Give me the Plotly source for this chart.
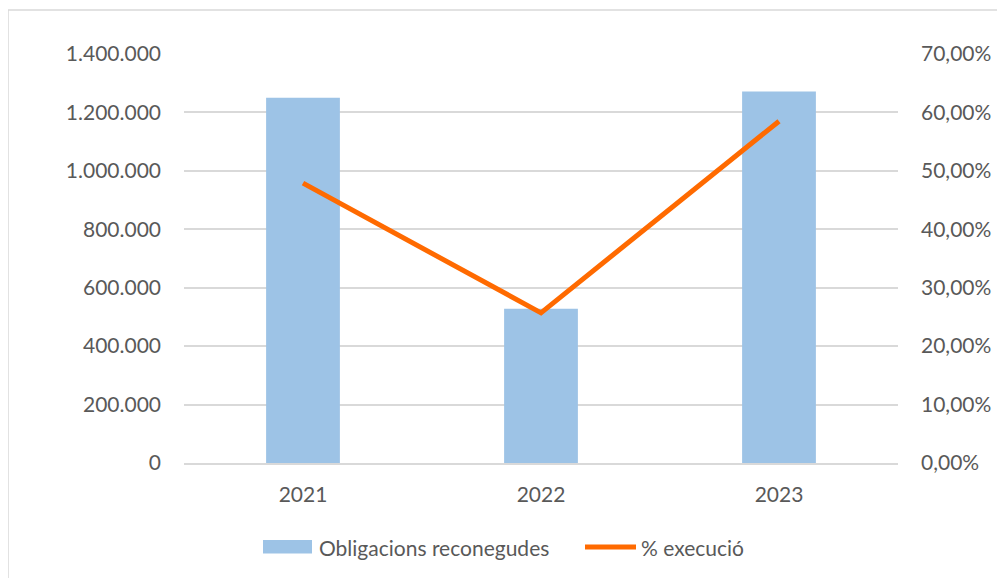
import plotly.graph_objects as go

years = ["2021", "2022", "2023"]
obligacions = [1250000, 528000, 1272000]
execucio = [47.9, 25.7, 58.5]

left_ticks = [0, 200000, 400000, 600000, 800000, 1000000, 1200000, 1400000]
left_labels = ["0", "200.000", "400.000", "600.000", "800.000", "1.000.000", "1.200.000", "1.400.000"]
right_ticks = [0, 10, 20, 30, 40, 50, 60, 70]
right_labels = ["0,00%", "10,00%", "20,00%", "30,00%", "40,00%", "50,00%", "60,00%", "70,00%"]
legend_names = ["Obligacions reconegudes", "% execució"]

FONT = "Lato"
TXT = "#595959"
BAR_C = "#9dc3e6"
LINE_C = "#ff6a00"
FS = 21

PW, PH = 714, 409  # plot area size in px


def px_x(page_x):
    return (page_x - 184) / PW


def px_y(page_y):
    return (463 - page_y) / PH


fig = go.Figure()
fig.add_trace(go.Bar(
    x=years, y=obligacions, name=legend_names[0],
    marker=dict(color=BAR_C, line=dict(width=0)), width=0.31, yaxis="y",
))
fig.add_trace(go.Scatter(
    x=years, y=execucio, name=legend_names[1], mode="lines",
    line=dict(color=LINE_C, width=5), yaxis="y2",
))

shapes = [
    dict(type="rect", xref="paper", yref="paper",
         x0=px_x(8), x1=px_x(1020), y0=px_y(600), y1=px_y(10),
         line=dict(color="#d9d9d9", width=1.5), fillcolor="rgba(0,0,0,0)", layer="below"),
    dict(type="rect", xref="paper", yref="paper",
         x0=px_x(263), x1=px_x(312), y0=px_y(553.5), y1=px_y(540),
         line=dict(width=0), fillcolor=BAR_C),
    dict(type="line", xref="paper", yref="paper",
         x0=px_x(585), x1=px_x(636), y0=px_y(547), y1=px_y(547),
         line=dict(color=LINE_C, width=5)),
]
annotations = [
    dict(text=legend_names[0], xref="paper", yref="paper", x=px_x(317), y=px_y(547),
         xanchor="left", yanchor="middle", showarrow=False,
         font=dict(family=FONT, size=FS, color=TXT)),
    dict(text=legend_names[1], xref="paper", yref="paper", x=px_x(639), y=px_y(547),
         xanchor="left", yanchor="middle", showarrow=False,
         font=dict(family=FONT, size=FS, color=TXT)),
]

fig.update_layout(
    width=997, height=570,
    margin=dict(l=176, r=107, t=46, b=115),
    paper_bgcolor="white", plot_bgcolor="white",
    font=dict(family=FONT, size=FS, color=TXT),
    showlegend=False,
    xaxis=dict(showgrid=False, showline=True, linecolor="#d9d9d9", linewidth=1.5,
               ticks="", tickfont=dict(size=FS, color=TXT), ticklabelstandoff=12),
    yaxis=dict(range=[0, 1400000], tickvals=left_ticks, ticktext=left_labels,
               showgrid=True, gridcolor="#d9d9d9", gridwidth=1.5, zeroline=False,
               showline=False, ticks="", ticklabelstandoff=22),
    yaxis2=dict(range=[0, 70], tickvals=right_ticks, ticktext=right_labels,
                overlaying="y", side="right", showgrid=False, zeroline=False,
                showline=False, ticks="", ticklabelstandoff=22),
    shapes=shapes,
    annotations=annotations,
)

fig.write_html("out.html")
